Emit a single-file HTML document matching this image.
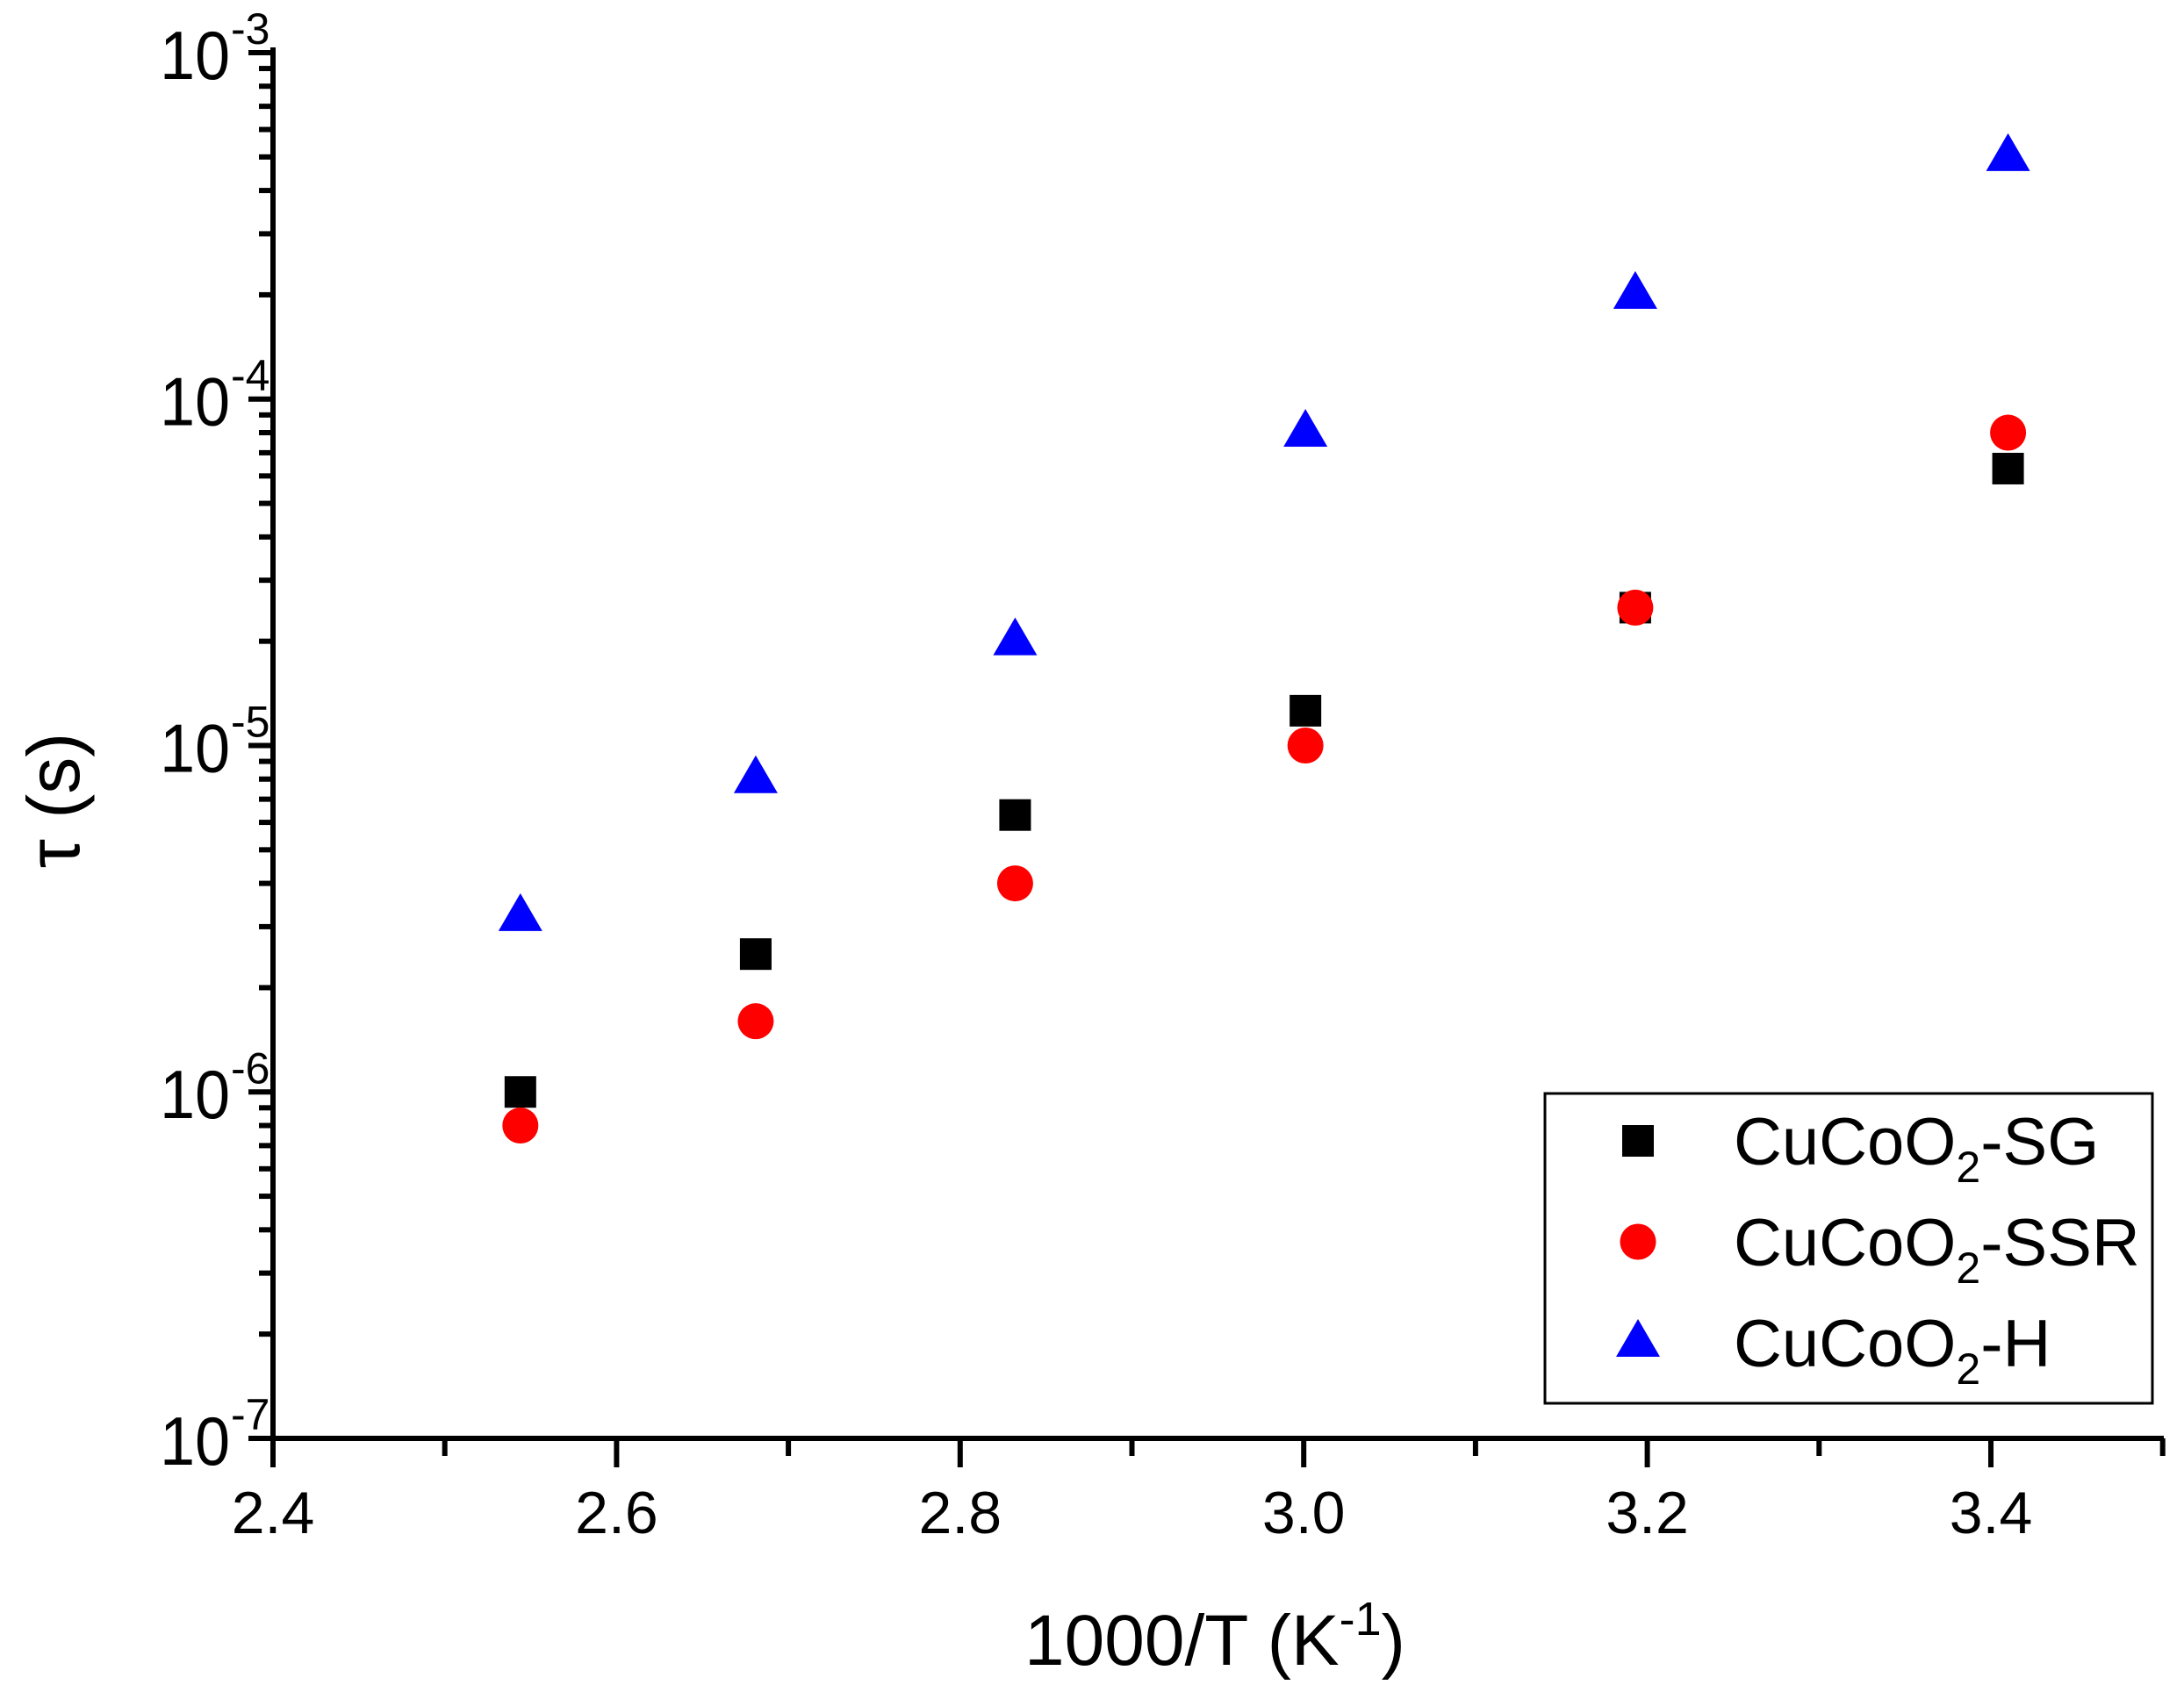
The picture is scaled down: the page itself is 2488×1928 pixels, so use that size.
<!DOCTYPE html>
<html><head><meta charset="utf-8"><style>html,body{margin:0;padding:0;background:#fff}svg{display:block}</style></head>
<body>
<svg id="s" width="2488" height="1928" viewBox="0 0 2488 1928" xmlns="http://www.w3.org/2000/svg" font-family="Liberation Sans, Arial, sans-serif"></svg>
<script>
const s=document.getElementById('s');
const L=311,R=2462,T=60,B=1639,D=(B-T)/4;
const X=v=>L+(v-2.4)*1957;
const Y=v=>T+(-3-Math.log10(v))*D;
let h='';
h+=`<path d="M${L} ${T-3}V${B}H${R}" fill="none" stroke="#000" stroke-width="6" stroke-linecap="square"/>`;
for(let e=-3;e>=-7;e--){
  const y=Y(Math.pow(10,e));
  h+=`<line x1="${L-28}" y1="${y}" x2="${L}" y2="${y}" stroke="#000" stroke-width="6"/>`;
  h+=`<text x="262" y="${y+30}" font-size="78" text-anchor="end" transform="translate(262 0) scale(0.92 1) translate(-262 0)">10</text><text x="263" y="${y-10}" font-size="50">-${-e}</text>`;
  if(e>-7)for(let k=2;k<=9;k++){const yy=Y(k*Math.pow(10,e-1));h+=`<line x1="${L-16}" y1="${yy}" x2="${L}" y2="${yy}" stroke="#000" stroke-width="6"/>`;}
}
for(let i=0;i<=11;i++){
  const v=2.4+i*0.1,x=X(v),maj=i%2==0;
  h+=`<line x1="${x}" y1="${B}" x2="${x}" y2="${B+(maj?33:20)}" stroke="#000" stroke-width="6"/>`;
  if(maj)h+=`<text x="${x}" y="${B+108}" font-size="68" text-anchor="middle">${v.toFixed(1)}</text>`;
}
h+=`<text x="1384" y="1897" font-size="82" text-anchor="middle">1000/T (K<tspan font-size="54" dy="-34">-1</tspan><tspan dy="34">)</tspan></text>`;
h+=`<text transform="translate(90,912) rotate(-90)" font-size="84" text-anchor="middle">τ (s)</text>`;
const xs=[2.544,2.681,2.832,3.001,3.193,3.41];
const sq=[1e-6,2.5e-6,6.3e-6,1.26e-5,2.5e-5,6.3e-5];
const ci=[8e-7,1.6e-6,4e-6,1e-5,2.5e-5,8e-5];
const tr=[3.2e-6,8e-6,2e-5,8e-5,2e-4,5e-4];
const S=(x,y)=>`<rect x="${x-18}" y="${y-18}" width="36" height="36" fill="#000"/>`;
const C=(x,y)=>`<circle cx="${x}" cy="${y}" r="20.5" fill="#f00"/>`;
const Tr=(x,y)=>`<polygon points="${x},${y-27} ${x+25},${y+16} ${x-25},${y+16}" fill="#00f"/>`;
xs.forEach((x,i)=>{h+=S(X(x),Y(sq[i]));});
xs.forEach((x,i)=>{h+=C(X(x),Y(ci[i]));});
xs.forEach((x,i)=>{h+=Tr(X(x),Y(tr[i]));});
h+=`<rect x="1760" y="1246" width="692" height="353" fill="#fff" stroke="#000" stroke-width="3"/>`;
const lab=['-SG','-SSR','-H'],ly=[1300,1415,1530],f=[S,C,Tr];
for(let i=0;i<3;i++){h+=f[i](1866,ly[i]);h+=`<text x="1975" y="${ly[i]+27}" font-size="76">CuCoO<tspan font-size="50" dy="20">2</tspan><tspan dy="-20">${lab[i]}</tspan></text>`;}
s.innerHTML=h;
</script>
</body></html>
